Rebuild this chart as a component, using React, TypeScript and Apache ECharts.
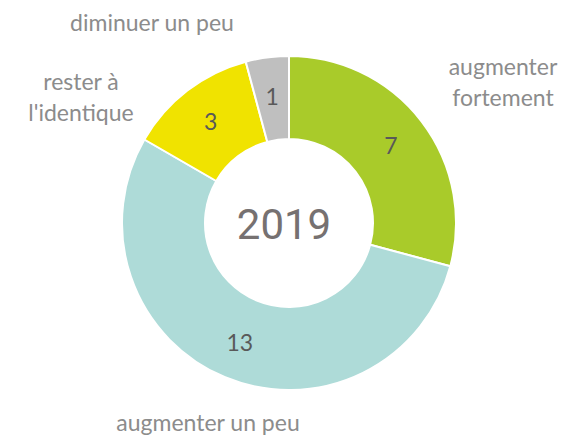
import React, { useEffect, useRef } from "react";
import * as echarts from "echarts";

const categories = ["augmenter fortement", "augmenter un peu", "rester à l'identique", "diminuer un peu"];
const labelLines = ["augmenter\nfortement", "augmenter un peu", "rester à\nl'identique", "diminuer un peu"];
const values = [7, 13, 3, 1];
const colors = ["#A9CB2A", "#AEDBD8", "#F0E300", "#BFBFBF"];
const centerTitle = "2019";

const labelPos: [number, number][] = [
  [503, 81],
  [208, 422],
  [81, 96],
  [152, 22],
];

export default function App() {
  const ref = useRef<HTMLDivElement>(null);
  useEffect(() => {
    const chart = echarts.init(ref.current!, undefined, { renderer: "svg" });
    const data = categories.map((c, i) => ({ name: c, value: values[i], itemStyle: { color: colors[i] } }));
    chart.setOption({
      animation: false,
      backgroundColor: "#ffffff",
      graphic: [
        ...labelLines.map((t, i) => ({
          type: "text",
          x: labelPos[i][0],
          y: labelPos[i][1],
          style: {
            text: t,
            fontFamily: "Lato",
            fontSize: 23,
            lineHeight: 31,
            fill: "#8C8C8C",
            align: "center",
            verticalAlign: "middle",
          },
        })),
        {
          type: "text",
          x: 284,
          y: 224,
          style: {
            text: centerTitle,
            fontFamily: "Roboto",
            fontSize: 42,
            fill: "#767171",
            align: "center",
            verticalAlign: "middle",
          },
        },
      ],
      series: [
        {
          type: "pie",
          center: [289, 223],
          radius: [84, 167],
          startAngle: 90,
          clockwise: true,
          data,
          itemStyle: { borderColor: "#ffffff", borderWidth: 2 },
          label: {
            show: true,
            position: "inside",
            formatter: "{c}",
            fontFamily: "Lato",
            fontSize: 23,
            color: "#595959",
          },
          labelLine: { show: false },
        },
      ],
    });
    return () => chart.dispose();
  }, []);
  return <div ref={ref} style={{ position: "fixed", left: 0, top: 0, width: 571, height: 438 }} />;
}
